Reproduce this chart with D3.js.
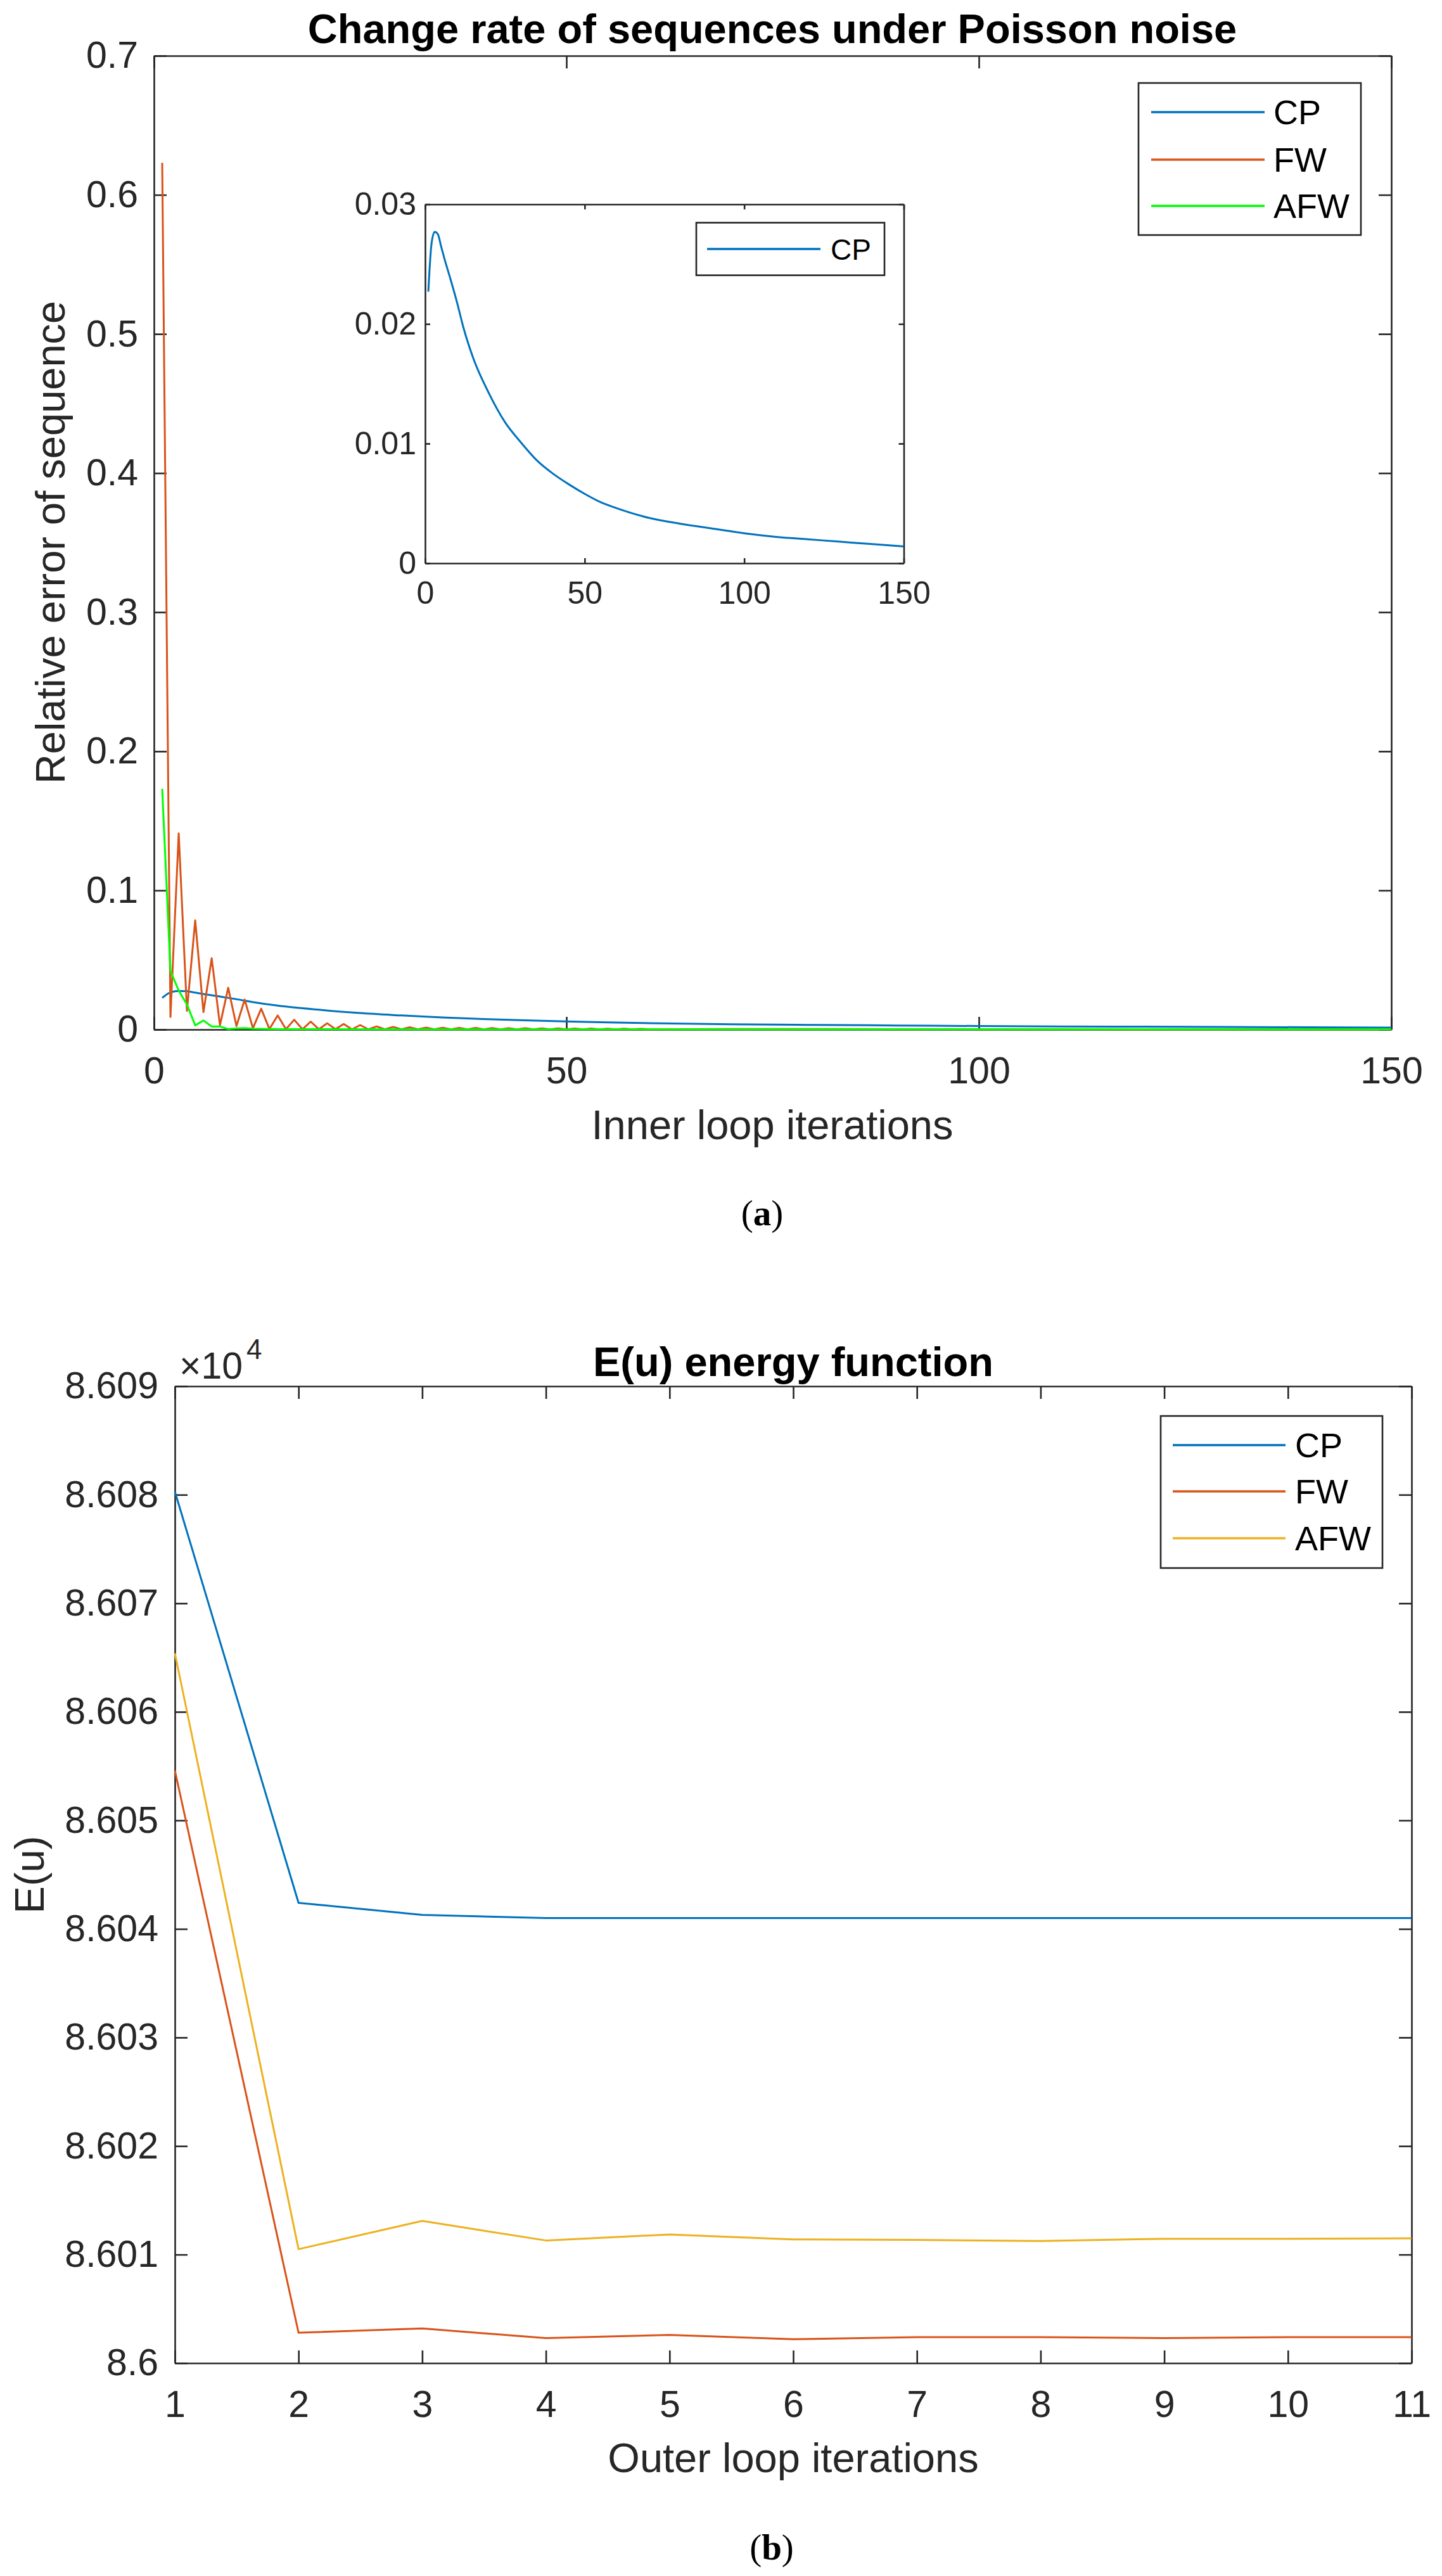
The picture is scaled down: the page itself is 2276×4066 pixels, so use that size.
<!DOCTYPE html>
<html><head><meta charset="utf-8">
<script src="https://cdn.jsdelivr.net/npm/d3@7"></script>
<style>body{margin:0;background:#fff} svg{display:block}</style>
</head><body>
<svg id="c" width="2276" height="4066"></svg>
<script>
// ---------------- DATA ----------------
// Panel (a): relative error of sequence vs inner loop iterations
const cpIterA = [1,2,3,4,5,6,8,10,12,15,20,25,30,35,40,45,50,55,60,70,80,90,100,110,120,130,140,150];
const cpRelErr = [0.0227,0.0267,0.0277,0.0275,0.0265,0.0255,0.0237,0.0218,0.0197,0.0172,0.0142,0.0118,0.0101,0.0086,0.0075,0.0066,0.0058,0.0051,0.0046,0.0038,0.0033,0.0029,0.0025,0.0022,0.0020,0.0018,0.0016,0.0014];

const fwIterA = [1,2,3,4,5,6,7,8,9,10,11,12,13,14,15,16,17,18,19,20,21,22,23,24,25,26,27,28,29,30,
  31,32,33,34,35,36,37,38,39,40,41,42,43,44,45,46,47,48,49,50,51,52,53,54,55,56,57,58,59,60,
  70,80,90,100,110,120,130,140,150];
const fwRelErr = [0.623,0.0090,0.141,0.0134,0.0785,0.0125,0.0512,0.0030,0.0300,0.0025,
  0.0215,0.0010,0.0150,0.0003,0.0101,0.0002,0.0070,0.0002,0.0057,0.0002,
  0.0045,0.0002,0.0040,0.0001,0.0032,0.0001,0.0022,0.0001,0.0019,0.0001,
  0.0016,0.0001,0.0014,0.0001,0.0013,0.0001,0.0012,0.0001,0.0011,0.0001,
  0.0010,0.0001,0.0009,0.0001,0.0009,0.0001,0.0008,0.0001,0.0008,0.0001,
  0.0007,0.0001,0.0007,0.0001,0.0006,0.0001,0.0006,0.0001,0.0005,0.0001,
  0.0003,0.0003,0.0002,0.0002,0.0002,0.0001,0.0001,0.0001,0.0001];

const afwIterA = [1,2,3,4,5,6,7,8,9,10,11,12,13,14,15,20,30,40,50,60,80,100,120,150];
const afwRelErr = [0.173,0.042,0.028,0.018,0.003,0.0065,0.0022,0.0022,0.0003,0.0008,0.0010,0.0006,0.0004,0.0003,0.0002,0.0002,0.0001,0.0001,0.0001,0.0001,0.0001,0.0001,0.0001,0.0001];

const xTicksA = [0,50,100,150];
const yTicksA = [0,0.1,0.2,0.3,0.4,0.5,0.6,0.7];
const yTickLabelsA = ["0","0.1","0.2","0.3","0.4","0.5","0.6","0.7"];
const xTicksInset = [0,50,100,150];
const yTicksInset = [0,0.01,0.02,0.03];
const yTickLabelsInset = ["0","0.01","0.02","0.03"];

// Panel (b): E(u) energy vs outer loop iterations
const outerIter = [1,2,3,4,5,6,7,8,9,10,11];
const cpEnergy  = [86080.3,86042.4,86041.3,86041.0,86041.0,86041.0,86041.0,86041.0,86041.0,86041.0,86041.0];
const fwEnergy  = [86054.6,86002.8,86003.2,86002.3,86002.6,86002.2,86002.4,86002.4,86002.3,86002.4,86002.4];
const afwEnergy = [86065.4,86010.5,86013.1,86011.3,86011.85,86011.4,86011.35,86011.25,86011.45,86011.45,86011.5];
const xTicksB = [1,2,3,4,5,6,7,8,9,10,11];
const yTicksB = [86000,86010,86020,86030,86040,86050,86060,86070,86080,86090];
const yTickLabelsB = ["8.6","8.601","8.602","8.603","8.604","8.605","8.606","8.607","8.608","8.609"];

const seriesNames = ["CP","FW","AFW"];
const colA = ["#0072BD","#D95319","#00FF00"];
const colB = ["#0072BD","#D95319","#EDB120"];

// ---------------- DRAW ----------------
const FONT = '"Liberation Sans", Arial, Helvetica, sans-serif';
const AX = "#262626";
const svg = d3.select("#c");
svg.append("rect").attr("width",2276).attr("height",4066).attr("fill","#fff");

function frame(g, x, y, xt, yt, ytl, tick, fs, xpad, ypad){
  const [x0,x1] = x.range(), [yb,yt0] = y.range();
  g.append("rect").attr("x",x0).attr("y",yt0).attr("width",x1-x0).attr("height",yb-yt0).attr("fill","#fff");
  g.append("g").attr("transform",`translate(0,${yb})`)
    .call(d3.axisBottom(x).tickValues(xt).tickSizeInner(-tick).tickSizeOuter(0).tickPadding(xpad).tickFormat(d=>String(d)));
  g.append("g").attr("transform",`translate(0,${yt0})`)
    .call(d3.axisTop(x).tickValues(xt).tickSizeInner(-tick).tickSizeOuter(0).tickFormat(""));
  g.append("g").attr("transform",`translate(${x0},0)`)
    .call(d3.axisLeft(y).tickValues(yt).tickSizeInner(-tick).tickSizeOuter(0).tickPadding(ypad).tickFormat((d,i)=>ytl[i]));
  g.append("g").attr("transform",`translate(${x1},0)`)
    .call(d3.axisRight(y).tickValues(yt).tickSizeInner(-tick).tickSizeOuter(0).tickFormat(""));
  g.selectAll(".domain, .tick line").attr("stroke",AX).attr("stroke-width",2.6);
  g.selectAll(".tick text").attr("fill",AX).style("font-family",FONT).style("font-size",fs+"px");
}

function drawLine(g, xs, ys, x, y, color, w, curve){
  const pts = xs.map((d,i)=>[d, ys[i]]);
  g.append("path").datum(pts)
    .attr("d", d3.line().curve(curve || d3.curveLinear).x(d=>x(d[0])).y(d=>y(d[1])))
    .attr("fill","none").attr("stroke",color).attr("stroke-width",w)
    .attr("stroke-linejoin","round");
}

function legend(g, bx, by, bw, bh, rows, colors, names, lx0, lx1, tx, fs){
  g.append("rect").attr("x",bx).attr("y",by).attr("width",bw).attr("height",bh)
    .attr("fill","#fff").attr("stroke",AX).attr("stroke-width",2.6);
  names.forEach((n,i)=>{
    g.append("line").attr("x1",lx0).attr("x2",lx1).attr("y1",rows[i]).attr("y2",rows[i])
      .attr("stroke",colors[i]).attr("stroke-width",3.5);
    g.append("text").attr("x",tx).attr("y",rows[i]).attr("dy","0.36em").text(n)
      .style("font-family",FONT).style("font-size",fs+"px").attr("fill","#000");
  });
}

function label(g, txt, x, y, fs, opts={}){
  const t = g.append("text").attr("x",x).attr("y",y).text(txt)
    .attr("text-anchor",opts.anchor||"middle")
    .style("font-family",opts.family||FONT).style("font-size",fs+"px")
    .attr("fill",opts.fill||"#000");
  if(opts.bold) t.style("font-weight","bold");
  if(opts.rotate) t.attr("transform",`rotate(-90,${x},${y})`);
  return t;
}

// ---- Panel (a)
const gA = svg.append("g");
const xA = d3.scaleLinear().domain([0,150]).range([243,2196]);
const yA = d3.scaleLinear().domain([0,0.7]).range([1625,88]);
frame(gA, xA, yA, xTicksA, yTicksA, yTickLabelsA, 20, 59, 43, 25);
drawLine(gA, cpIterA, cpRelErr, xA, yA, colA[0], 3, d3.curveMonotoneX);
drawLine(gA, fwIterA, fwRelErr, xA, yA, colA[1], 3);
drawLine(gA, afwIterA, afwRelErr, xA, yA, colA[2], 3);

label(gA, "Change rate of sequences under Poisson noise", 1219, 68, 65, {bold:true});
label(gA, "Inner loop iterations", 1219, 1798, 65, {fill:AX});
label(gA, "Relative error of sequence", 102, 856, 65, {rotate:true, fill:AX});
legend(gA, 1797, 131, 351, 240, [177,252,325], colA, seriesNames, 1817, 1996, 2010, 54);

// inset
const gI = svg.append("g");
const xI = d3.scaleLinear().domain([0,150]).range([671,1426.5]);
const yI = d3.scaleLinear().domain([0,0.03]).range([889,322.5]);
frame(gI, xI, yI, xTicksInset, yTicksInset, yTickLabelsInset, 8, 50, 28, 14);
drawLine(gI, cpIterA, cpRelErr, xI, yI, colA[0], 3, d3.curveMonotoneX);
legend(gI, 1099, 351.5, 297, 83, [393], [colA[0]], ["CP"], 1116, 1295, 1311, 46);

// caption (a)
const capA = gA.append("text").attr("x",1203).attr("y",1934).attr("text-anchor","middle")
  .style("font-family",'"Liberation Serif","Times New Roman",serif').style("font-size","57px").attr("fill","#000");
capA.append("tspan").text("(");
capA.append("tspan").text("a").style("font-weight","bold");
capA.append("tspan").text(")");

// ---- Panel (b)
const gB = svg.append("g");
const xB = d3.scaleLinear().domain([1,11]).range([276,2228]);
const yB = d3.scaleLinear().domain([86000,86090]).range([3730,2188]);
frame(gB, xB, yB, xTicksB, yTicksB, yTickLabelsB, 20, 59, 43, 26);
drawLine(gB, outerIter, cpEnergy, xB, yB, colB[0], 3);
drawLine(gB, outerIter, fwEnergy, xB, yB, colB[1], 3);
drawLine(gB, outerIter, afwEnergy, xB, yB, colB[2], 3);

label(gB, "E(u) energy function", 1252, 2172, 65, {bold:true});
label(gB, "Outer loop iterations", 1252, 3902, 65, {fill:AX});
label(gB, "E(u)", 69, 2959, 65, {rotate:true, fill:AX});
label(gB, "\u00d710", 283, 2176, 59, {anchor:"start", fill:AX});
label(gB, "4", 389, 2145, 44, {anchor:"start", fill:AX});
legend(gB, 1832, 2235, 350, 240, [2281,2354,2428], colB, seriesNames, 1851, 2029, 2044, 54);

const capB = gB.append("text").attr("x",1218).attr("y",4040).attr("text-anchor","middle")
  .style("font-family",'"Liberation Serif","Times New Roman",serif').style("font-size","57px").attr("fill","#000");
capB.append("tspan").text("(");
capB.append("tspan").text("b").style("font-weight","bold");
capB.append("tspan").text(")");
</script>
</body></html>
